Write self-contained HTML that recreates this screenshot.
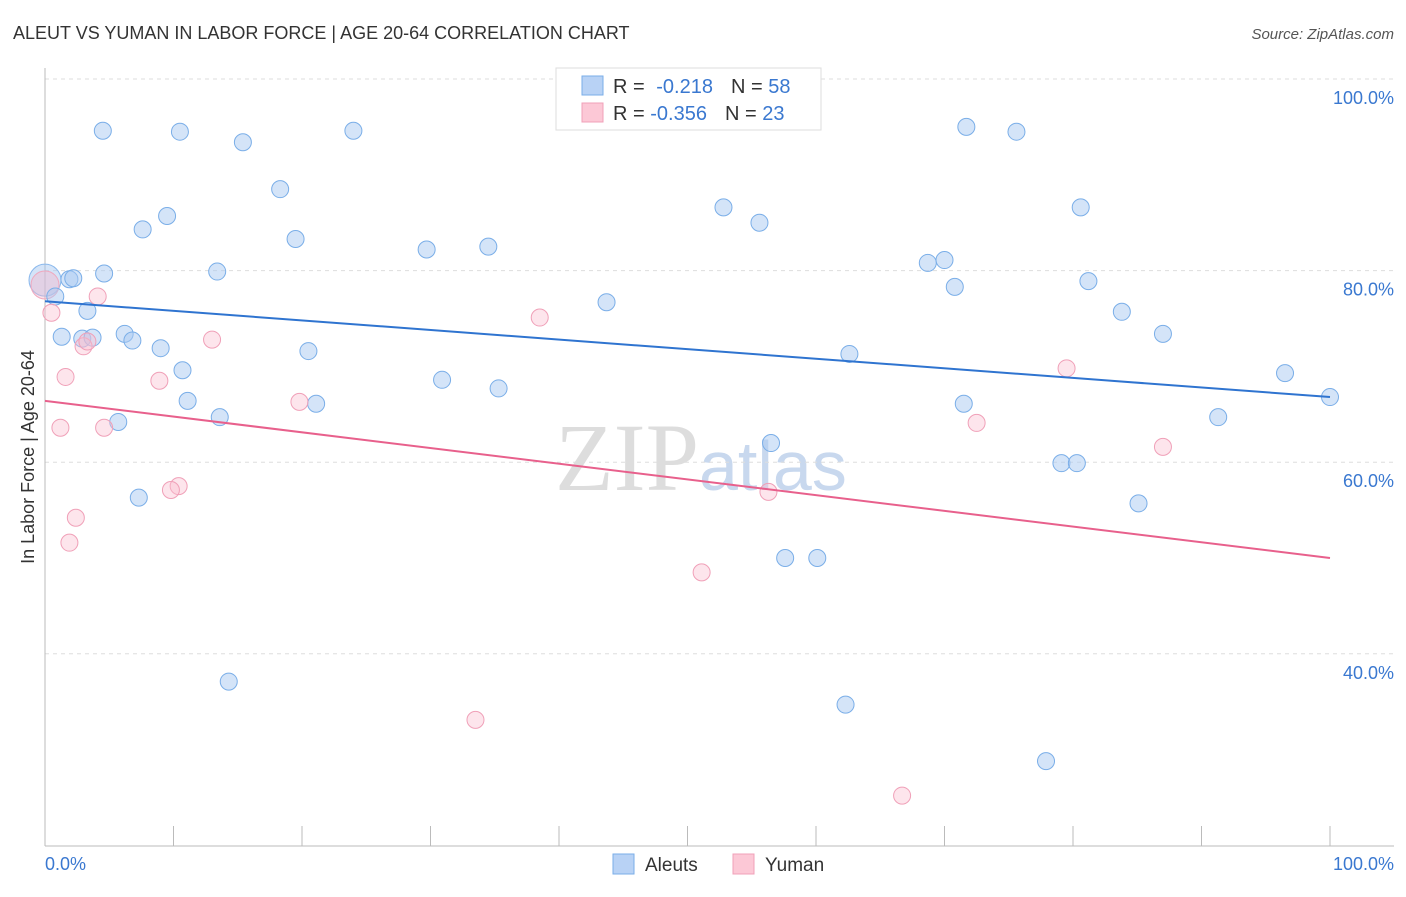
<!DOCTYPE html>
<html><head><meta charset="utf-8"><style>
body{margin:0;background:#fff;font-family:"Liberation Sans",sans-serif;}
</style></head><body>
<svg id="chart" width="1406" height="892" xmlns="http://www.w3.org/2000/svg" style="font-family:'Liberation Sans',sans-serif">
<text x="13" y="39" font-size="18" fill="#333">ALEUT VS YUMAN IN LABOR FORCE | AGE 20-64 CORRELATION CHART</text>
<text x="1394" y="39" font-size="15" fill="#555" text-anchor="end" font-style="italic">Source: ZipAtlas.com</text>
<text x="555" y="490" font-size="96" fill="#ddd" font-family="Liberation Serif">ZIP<tspan fill="#c8d8ee" font-family="Liberation Sans" font-size="70">atlas</tspan></text>
<g id="grid"></g>
<g id="axes"></g>
<g id="marks"></g>
<text transform="translate(34,457) rotate(-90)" font-size="18" fill="#333" text-anchor="middle">In Labor Force | Age 20-64</text>
<text x="45" y="870" font-size="18" fill="#3a78d0">0.0%</text>
<text x="1394" y="870" font-size="18" fill="#3a78d0" text-anchor="end">100.0%</text>
<g>
<rect x="556" y="68" width="265" height="62" fill="#fff" stroke="#ddd"/>
<rect x="582" y="76" width="21" height="19" fill="#b8d2f5" stroke="#7aaee8"/>
<rect x="582" y="103" width="21" height="19" fill="#fcc8d6" stroke="#f0a0b8"/>
<text x="613" y="93" font-size="20" fill="#333">R = <tspan fill="#3a78d0" dx="6">-0.218</tspan><tspan dx="18" fill="#333">N = </tspan><tspan fill="#3a78d0">58</tspan></text>
<text x="613" y="120" font-size="20" fill="#333">R = <tspan fill="#3a78d0">-0.356</tspan><tspan dx="18" fill="#333">N = </tspan><tspan fill="#3a78d0">23</tspan></text>
</g>
<g>
<rect x="613" y="854" width="21" height="20" fill="#b8d2f5" stroke="#7aaee8"/>
<text x="645" y="871" font-size="19" fill="#333">Aleuts</text>
<rect x="733" y="854" width="21" height="20" fill="#fcc8d6" stroke="#f0a0b8"/>
<text x="765" y="871" font-size="19" fill="#333">Yuman</text>
</g>
</svg>
<script>
const yTicks=[100,80,60,40];
const yTickLabels=["100.0%","80.0%","60.0%","40.0%"];
const xTicks=[0,10,20,30,40,50,60,70,80,90,100];
const aleutX=[4.5,10.5,15.4,24.0,71.7,75.6,18.3,9.5,7.6,19.5,29.7,34.5,52.8,55.6,80.6,68.7,70.0,70.8,81.2,0.8,1.9,2.2,4.6,13.4,3.3,1.3,2.9,3.7,6.2,6.8,9.0,20.5,10.7,43.7,62.6,83.8,87.0,96.5,100,30.9,35.3,11.1,21.1,13.6,5.7,71.5,91.3,56.5,79.1,80.3,7.3,85.1,57.6,60.1,14.3,62.3,77.9];
const aleutY=[94.6,94.5,93.4,94.6,95.0,94.5,88.5,85.7,84.3,83.3,82.2,82.5,86.6,85.0,86.6,80.8,81.1,78.3,78.9,77.3,79.1,79.2,79.7,79.9,75.8,73.1,72.9,73.0,73.4,72.7,71.9,71.6,69.6,76.7,71.3,75.7,73.4,69.3,66.8,68.6,67.7,66.4,66.1,64.7,64.2,66.1,64.7,62.0,59.9,59.9,56.3,55.7,50.0,50.0,37.1,34.7,28.8];
const yumanX=[0.5,4.1,3.0,3.3,1.6,1.2,4.6,8.9,13.0,19.8,38.5,79.5,72.5,87.0,10.4,9.8,2.4,1.9,56.3,51.1,33.5,66.7];
const yumanY=[75.6,77.3,72.1,72.6,68.9,63.6,63.6,68.5,72.8,66.3,75.1,69.8,64.1,61.6,57.5,57.1,54.2,51.6,56.9,48.5,33.1,25.2];
const aleutTrend=[76.8,66.8];
const yumanTrend=[66.4,50.0];
const NS="http://www.w3.org/2000/svg";
const sx=v=>45+v*12.85;
const sy=v=>79+(100-v)*9.58;
function mk(tag,attrs,parent){const e=document.createElementNS(NS,tag);for(const k in attrs)e.setAttribute(k,attrs[k]);parent.appendChild(e);return e;}
const grid=document.getElementById('grid'),axes=document.getElementById('axes'),marks=document.getElementById('marks');
yTicks.forEach((t,i)=>{
 const l=mk('line',{x1:45,x2:1394,y1:sy(t),y2:sy(t),stroke:'#ddd','stroke-dasharray':'4,4'},grid);
 
 
 const tx=mk('text',{x:1394,y:sy(t)+25,'font-size':18,fill:'#3a78d0','text-anchor':'end'},grid);
 tx.textContent=yTickLabels[i];
 
 
});
const ax=mk('line',{x1:45,x2:1394,y1:846,y2:846,stroke:'#bbb'},axes);


const ay=mk('line',{x1:45,x2:45,y1:68,y2:846,stroke:'#bbb'},axes);


xTicks.forEach(t=>{
 const l=mk('line',{x1:sx(t),x2:sx(t),y1:826,y2:846,stroke:'#bbb'},axes);
 
 
});
function dot(x,y,r,fill,stroke,name){
 const c=mk('circle',{cx:sx(x),cy:sy(y),r:r,fill:fill,stroke:stroke,'stroke-width':1},marks);
 
 
}
dot(0,79.0,16,'rgba(160,196,240,0.45)','#8ab8ec','aleut-point');
dot(0,78.5,14,'rgba(248,180,200,0.4)','#f0a8be','yuman-point');
aleutX.forEach((x,i)=>dot(x,aleutY[i],8.5,'rgba(170,202,242,0.5)','#7aaee8','aleut-point'));
yumanX.forEach((x,i)=>dot(x,yumanY[i],8.5,'rgba(250,190,208,0.4)','#f0a0b8','yuman-point'));
const bl=mk('line',{x1:sx(0),y1:sy(aleutTrend[0]),x2:sx(100),y2:sy(aleutTrend[1]),stroke:'#2f74d0','stroke-width':2},marks);


const pl=mk('line',{x1:sx(0),y1:sy(yumanTrend[0]),x2:sx(100),y2:sy(yumanTrend[1]),stroke:'#e8608c','stroke-width':2},marks);


</script>
</body></html>
